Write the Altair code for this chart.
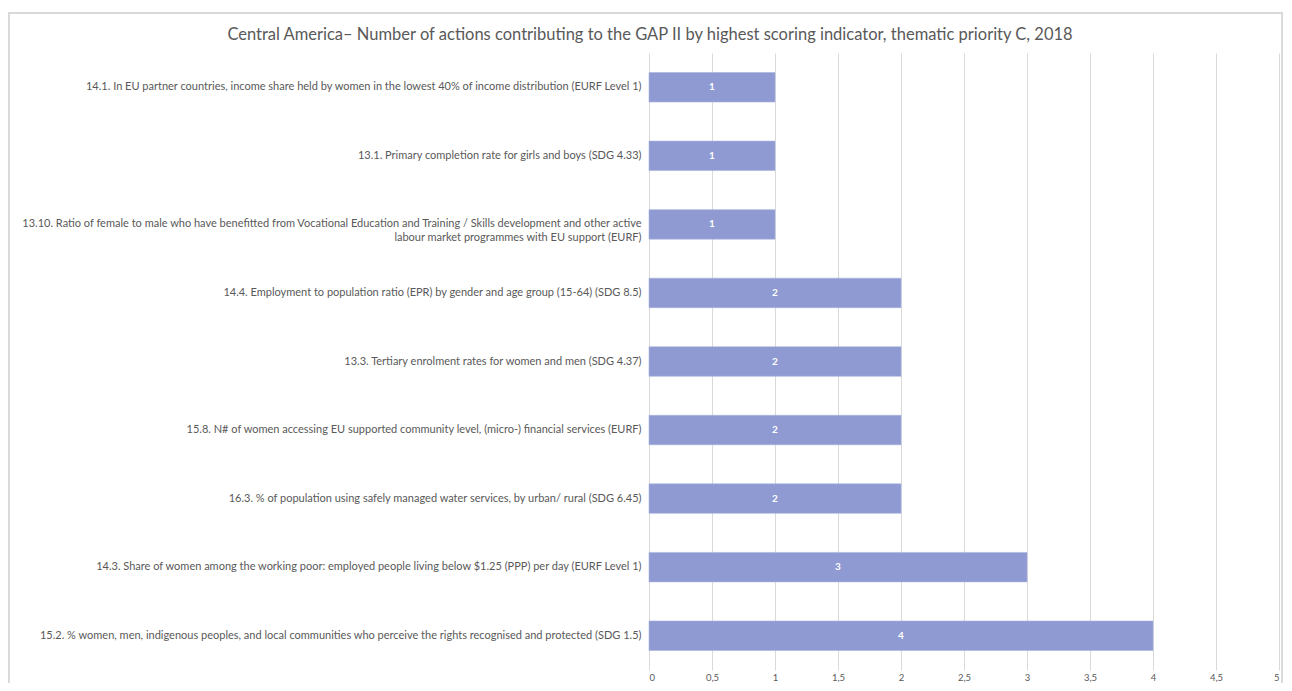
import altair as alt
import pandas as pd

categories = [
    "14.1. In EU partner countries, income share held by women in the lowest 40% of income distribution (EURF Level 1)",
    "13.1. Primary completion rate for girls and boys (SDG 4.33)",
    "13.10. Ratio of female to male who have benefitted from Vocational Education and Training / Skills development and other active|labour market programmes with EU support (EURF)",
    "14.4. Employment to population ratio (EPR) by gender and age group (15-64) (SDG 8.5)",
    "13.3. Tertiary enrolment rates for women and men (SDG 4.37)",
    "15.8. N# of women accessing EU supported community level, (micro-) financial services (EURF)",
    "16.3. % of population using safely managed water services, by urban/ rural (SDG 6.45)",
    "14.3. Share of women among the working poor: employed people living below $1.25 (PPP) per day (EURF Level 1)",
    "15.2. % women, men, indigenous peoples, and local communities who perceive the rights recognised and protected (SDG 1.5)",
]
values = [1, 1, 1, 2, 2, 2, 2, 3, 4]
x_ticks = [0, 0.5, 1, 1.5, 2, 2.5, 3, 3.5, 4, 4.5, 5]

df = pd.DataFrame({"indicator": categories, "actions": values})
df["mid"] = df["actions"] / 2

FONT = "Lato"
GRAY = "#595959"
BAR = "#8E9AD1"

y_enc = alt.Y(
    "indicator:N",
    sort=categories,
    scale=alt.Scale(paddingInner=0.57, paddingOuter=0.285),
    axis=alt.Axis(
        title=None,
        labelExpr="split(datum.label, '|')",
        labelLimit=900,
        labelFontSize=11,
        labelFont=FONT,
        labelColor=GRAY,
        labelPadding=8,
        labelLineHeight=14,
        ticks=False,
        domain=False,
        grid=False,
    ),
)

x_scale = alt.Scale(domain=[0, 5], nice=False)

bars = alt.Chart(df).mark_bar(color=BAR, stroke="#a9b3df", strokeWidth=0.6).encode(
    x=alt.X(
        "actions:Q",
        scale=x_scale,
        axis=alt.Axis(
            title=None,
            values=x_ticks,
            labelExpr="replace(format(datum.value, '~g'), '.', ',')",
            labelFontSize=9.5,
            labelFont=FONT,
            labelColor=GRAY,
            grid=True,
            gridColor="#d9d9d9",
            gridWidth=1,
            domain=False,
            ticks=False,
            labelPadding=2,
        ),
    ),
    y=y_enc,
)

labels = alt.Chart(df).mark_text(
    color="white", fontWeight="bold", fontSize=10, font=FONT
).encode(
    x=alt.X("mid:Q", scale=x_scale),
    y=alt.Y("indicator:N", sort=categories),
    text=alt.Text("actions:Q"),
)

frame = alt.Chart(df).mark_rect(
    filled=False, stroke="#d9d9d9", strokeWidth=1.5, clip=False
).encode(
    x=alt.value(-640.5), x2=alt.value(633.5), y=alt.value(-40), y2=alt.value(632)
)

chart = (
    alt.layer(frame, bars, labels)
    .properties(
        width=630,
        height=617,
        autosize=alt.AutoSizeParams(type="none"),
        padding={"left": 641, "top": 45, "right": 4, "bottom": 13},
        title=alt.TitleParams(
            "Central America\u2013 Number of actions contributing to the GAP II by highest scoring indicator, thematic priority C, 2018",
            font=FONT,
            fontSize=16.5,
            fontWeight="normal",
            color=GRAY,
            anchor="middle",
            dx=-314,
            offset=-31,
        ),
    )
    .configure_view(stroke=None)
)

chart.save("out.html", embed_options={"renderer": "svg", "actions": False})
